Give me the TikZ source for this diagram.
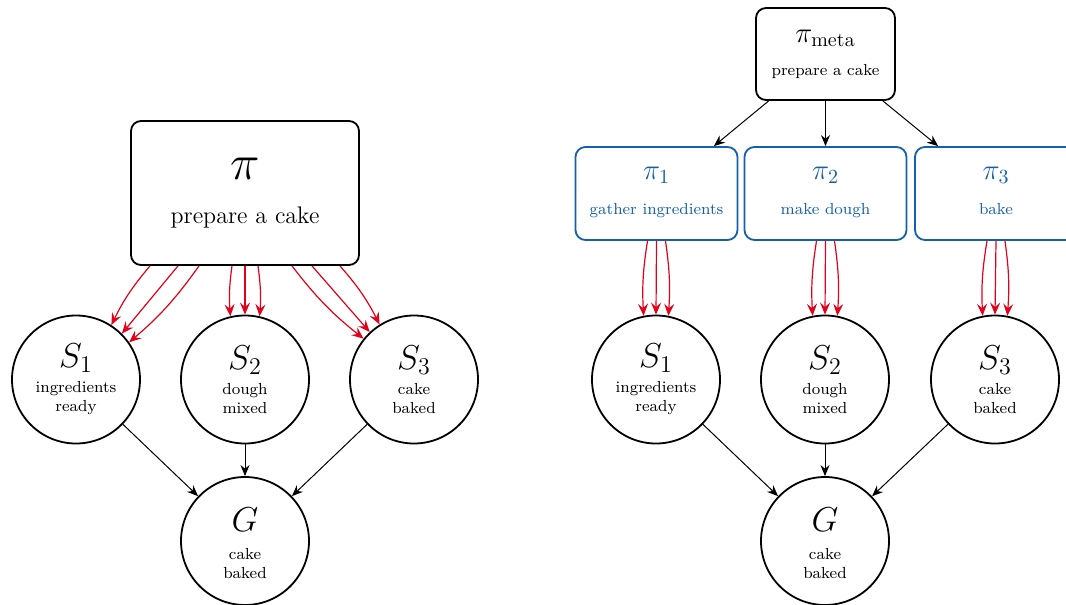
\documentclass[tikz,border=0pt]{standalone}
\usetikzlibrary{arrows.meta,calc}
\definecolor{pblue}{RGB}{21,96,170}
\definecolor{pred}{RGB}{226,0,26}
\begin{document}
\begin{tikzpicture}[x=0.5pt,y=-0.5pt,
 circ/.style={circle,draw,line width=0.9pt,minimum size=64pt,inner sep=0pt,align=center,font=\footnotesize},
 bigbox/.style={draw,rounded corners=5pt,line width=0.9pt,minimum width=114pt,minimum height=72pt,align=center,font=\large},
 metabox/.style={draw,rounded corners=5pt,line width=0.9pt,minimum width=69.5pt,minimum height=46pt,align=center,font=\footnotesize},
 subbox/.style={draw=pblue,text=pblue,rounded corners=5pt,line width=0.9pt,minimum width=81pt,minimum height=46.5pt,align=center,font=\footnotesize},
 blk/.style={-{Stealth[length=5.5pt,width=4.5pt,inset=1.8pt]},line width=0.5pt},
 redarr/.style={draw=pred,-{Stealth[length=6pt,width=5pt,inset=2.2pt,fill=pred]},line width=0.6pt},
]
\useasboundingbox (0,0) rectangle (1066,605);

% ---------- left diagram ----------
\node[bigbox] (pi) at (245,193) {{\fontsize{30}{30}\selectfont$\pi$}\\[8pt]prepare a cake};
\node[circ] (s1) at (76,379.5) {{\LARGE$S_1$}\\[3pt]ingredients\\ready};
\node[circ] (s2) at (245,379.5) {{\LARGE$S_2$}\\[3pt]dough\\mixed};
\node[circ] (s3) at (414,379.5) {{\LARGE$S_3$}\\[3pt]cake\\baked};
\node[circ] (g) at (245,541) {{\LARGE\rule{0pt}{14.5pt}$G$}\\[4.5pt]cake\\baked};

\draw[redarr] ($(pi.south)+(-95,0)$) to[bend right=7] (s1.57);
\draw[redarr] ($(pi.south)+(-67,0)$) -- (s1.45);
\draw[redarr] ($(pi.south)+(-46,0)$) to[bend left=7] (s1.35);
\draw[redarr] ($(pi.south)+(-13,0)$) to[bend right=6] (s2.103);
\draw[redarr] (pi.south) -- (s2.90);
\draw[redarr] ($(pi.south)+(13,0)$) to[bend left=6] (s2.77);
\draw[redarr] ($(pi.south)+(47,0)$) to[bend right=7] (s3.141);
\draw[redarr] ($(pi.south)+(67,0)$) -- (s3.133);
\draw[redarr] ($(pi.south)+(95,0)$) to[bend left=7] (s3.122);

\draw[blk] (s1) -- (g);
\draw[blk] (s2) -- (g);
\draw[blk] (s3) -- (g);

% ---------- right diagram ----------
\node[metabox] (meta) at (825.5,54) {{\Large$\pi_{\mathrm{meta}}$}\\[7pt]prepare a cake};
\node[subbox] (p1) at (656.5,193.5) {{\Large$\pi_1$}\\[8pt]gather ingredients\strut};
\node[subbox] (p2) at (825.5,193.5) {{\Large$\pi_2$}\\[8pt]make dough\strut};
\node[subbox] (p3) at (996,193.5) {{\Large$\pi_3$}\\[8pt]bake\strut};

\node[circ] (r1) at (656,379.5) {{\LARGE$S_1$}\\[3pt]ingredients\\ready};
\node[circ] (r2) at (825,379.5) {{\LARGE$S_2$}\\[3pt]dough\\mixed};
\node[circ] (r3) at (995,379.5) {{\LARGE$S_3$}\\[3pt]cake\\baked};
\node[circ] (rg) at (825,541) {{\LARGE\rule{0pt}{14.5pt}$G$}\\[4.5pt]cake\\baked};

\draw[blk] (meta) -- (p1);
\draw[blk] (meta) -- (p2);
\draw[blk] (meta) -- (p3);

\draw[redarr] ($(p1.south)+(-9,0)$) to[bend right=6] (r1.101);
\draw[redarr] (p1.south) -- (r1.90);
\draw[redarr] ($(p1.south)+(9,0)$) to[bend left=6] (r1.79);
\draw[redarr] ($(p2.south)+(-9,0)$) to[bend right=6] (r2.101);
\draw[redarr] (p2.south) -- (r2.90);
\draw[redarr] ($(p2.south)+(9,0)$) to[bend left=6] (r2.79);
\draw[redarr] ($(p3.south)+(-9,0)$) to[bend right=6] (r3.101);
\draw[redarr] (p3.south) -- (r3.90);
\draw[redarr] ($(p3.south)+(9,0)$) to[bend left=6] (r3.79);

\draw[blk] (r1) -- (rg);
\draw[blk] (r2) -- (rg);
\draw[blk] (r3) -- (rg);
\end{tikzpicture}
\end{document}
